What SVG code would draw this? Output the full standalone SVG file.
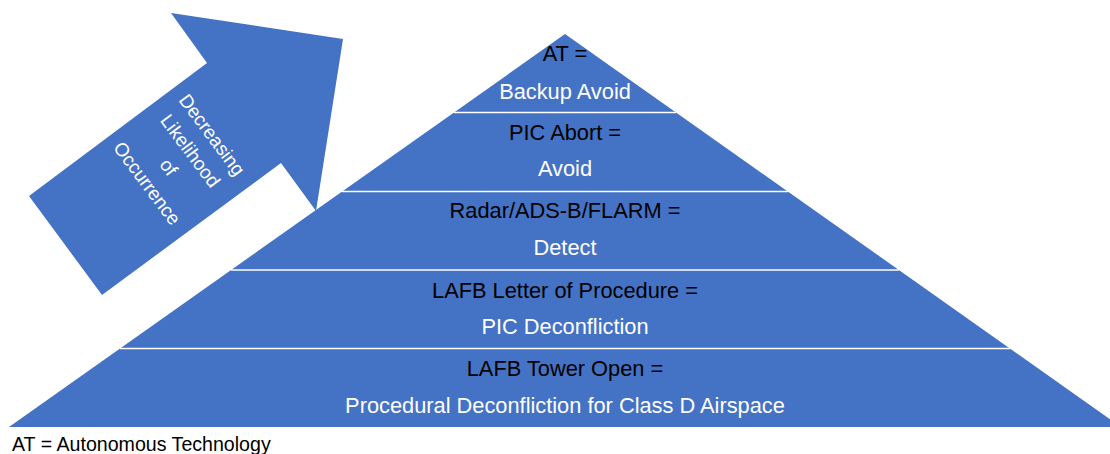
<svg xmlns="http://www.w3.org/2000/svg" width="1110" height="454" viewBox="0 0 1110 454">
<style>
.fill{fill:#4472C4}
.sep{stroke:#FFFFFF;stroke-width:1.5}
text{font-family:"Liberation Sans",Arial,sans-serif;font-size:21.8px;text-anchor:middle}
.k{fill:#000000}
.w{fill:#FFFFFF}
.arrowtxt{font-size:19px;fill:#FFFFFF}
.foot{font-size:19.6px;fill:#000000;text-anchor:start}
</style>
<rect width="1110" height="454" fill="#FFFFFF"/>
<g id="arrow">
<polygon class="fill" points="29,196 207,63 171,13 343,39 316,211 281,163 102,295"/>
<g transform="translate(179.5,159) rotate(53.2)">
<text class="arrowtxt" x="0" y="-34">Decreasing</text>
<text class="arrowtxt" x="0" y="-7">Likelihood</text>
<text class="arrowtxt" x="0" y="20">of</text>
<text class="arrowtxt" x="0" y="47">Occurrence</text>
</g>
</g>
<g id="pyramid">
<polygon class="fill" points="565,34 1121,427 9,427"/>
</g>
<g id="connectors">
<line class="sep" x1="454" y1="112.5" x2="676" y2="112.5"/>
<line class="sep" x1="342" y1="191.5" x2="788" y2="191.5"/>
<line class="sep" x1="231" y1="270" x2="899" y2="270"/>
<line class="sep" x1="120" y1="348.5" x2="1010" y2="348.5"/>
</g>
<g id="level1">
<text class="k" x="565" y="61">AT =</text>
<text class="w" x="565" y="99">Backup Avoid</text>
</g>
<g id="level2">
<text class="k" x="565" y="140">PIC Abort =</text>
<text class="w" x="565" y="176">Avoid</text>
</g>
<g id="level3">
<text class="k" x="565" y="218">Radar/ADS-B/FLARM =</text>
<text class="w" x="565" y="255">Detect</text>
</g>
<g id="level4">
<text class="k" x="565" y="298">LAFB Letter of Procedure =</text>
<text class="w" x="565" y="334">PIC Deconfliction</text>
</g>
<g id="level5">
<text class="k" x="565" y="376">LAFB Tower Open =</text>
<text class="w" x="565" y="413">Procedural Deconfliction for Class D Airspace</text>
</g>
<g id="legend">
<text class="foot" x="12" y="451">AT = Autonomous Technology</text>
</g>
</svg>
